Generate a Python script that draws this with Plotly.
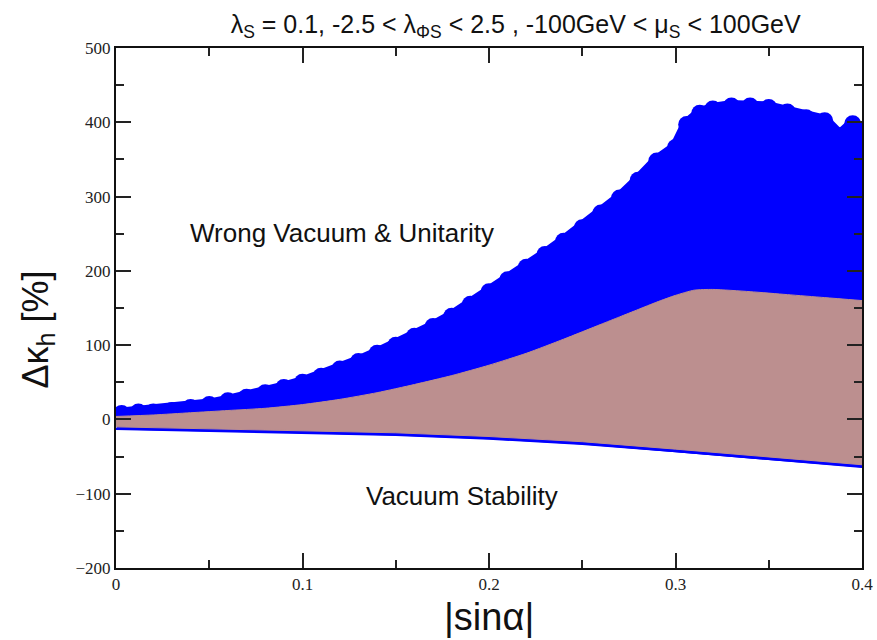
import plotly.graph_objects as go

# Outermost scan points of the full parameter scan (blue): upper edge
scan_edge_x = [0.003, 0.012, 0.02, 0.03, 0.04, 0.05, 0.06, 0.07, 0.08, 0.09,
               0.10, 0.11, 0.12, 0.13, 0.14, 0.15, 0.16, 0.17, 0.18, 0.19,
               0.20, 0.21, 0.22, 0.23, 0.24, 0.25, 0.26, 0.27, 0.28, 0.29,
               0.30, 0.306, 0.313, 0.32, 0.33, 0.34, 0.35, 0.36, 0.37, 0.38,
               0.388, 0.395, 0.40]
scan_edge_y = [8, 10, 10, 12, 16, 20, 25, 30, 36, 43,
               50, 58, 68, 78, 89, 100, 112, 125, 139, 155,
               172, 188, 205, 222, 240, 258, 278, 298, 322, 348,
               366, 397, 412, 418, 422, 422, 420, 414, 406, 402,
               382, 398, 388]

# Lower edge of the full scan
scan_low_x = [0.0, 0.05, 0.10, 0.15, 0.20, 0.25, 0.30, 0.35, 0.40]
scan_low_y = [-13, -16, -18, -21, -26, -33, -43, -54, -64]

# Region allowed by vacuum stability (brown)
stable_x = [0.0, 0.02, 0.04, 0.06, 0.08, 0.10, 0.12, 0.14, 0.16, 0.18, 0.20,
            0.22, 0.24, 0.26, 0.27, 0.28, 0.29, 0.30, 0.31, 0.32, 0.34,
            0.36, 0.38, 0.40]
stable_top = [4, 6, 9, 12, 15, 20, 27, 36, 47, 59, 73,
              89, 108, 128, 138, 148, 158, 167, 174, 175, 172,
              168, 164, 160]
stable_low_x = [0.0, 0.05, 0.10, 0.15, 0.20, 0.25, 0.30, 0.35, 0.40]
stable_low_y = [-10, -13, -15, -18, -23, -30, -40, -51, -61]

x_ticks = [0, 0.1, 0.2, 0.3, 0.4]
x_tick_text = ["0", "0.1", "0.2", "0.3", "0.4"]
y_ticks = [-200, -100, 0, 100, 200, 300, 400, 500]

BLUE = "#0000ff"
BROWN = "#bc8f8f"

fig = go.Figure()

# Full scan: filled body between lower and upper edges
fig.add_trace(go.Scatter(
    x=scan_edge_x + scan_low_x[::-1],
    y=scan_edge_y + scan_low_y[::-1],
    fill="toself", fillcolor=BLUE, mode="lines",
    line=dict(color=BLUE, width=1), hoverinfo="skip", showlegend=False))

# Full scan: outer points drawn as the large plotting symbols
fig.add_trace(go.Scatter(
    x=scan_edge_x, y=scan_edge_y, mode="lines+markers",
    line=dict(color=BLUE, width=12),
    marker=dict(color=BLUE, size=17, symbol="circle"),
    hoverinfo="skip", showlegend=False))

# Lower edge drawn as a thin band
fig.add_trace(go.Scatter(
    x=scan_low_x, y=scan_low_y, mode="lines",
    line=dict(color=BLUE, width=2), hoverinfo="skip", showlegend=False))

# Vacuum-stable region: lower edge, then smoothed upper edge filled down to it
fig.add_trace(go.Scatter(
    x=stable_low_x, y=stable_low_y, mode="lines",
    line=dict(color=BROWN, width=1), hoverinfo="skip", showlegend=False))
fig.add_trace(go.Scatter(
    x=stable_x, y=stable_top, mode="lines", fill="tonexty", fillcolor=BROWN,
    line=dict(color=BROWN, width=1, shape="spline", smoothing=0.6),
    hoverinfo="skip", showlegend=False))

tick_font = dict(family="Liberation Serif, Times New Roman, serif", size=17, color="#222")
sans = "Liberation Sans, Arial, sans-serif"

fig.update_layout(
    width=877, height=640,
    margin=dict(l=116, r=15, t=48, b=72, autoexpand=False),
    paper_bgcolor="white", plot_bgcolor="white",
    title=dict(
        text="λ<sub>S</sub> = 0.1, -2.5 < λ<sub>ΦS</sub> < 2.5 , -100GeV < μ<sub>S</sub> < 100GeV",
        x=0.588, xanchor="center", y=0.962, yanchor="middle",
        font=dict(family=sans, size=25, color="#111")),
    xaxis=dict(
        range=[0, 0.4], tickvals=x_ticks, ticktext=x_tick_text,
        ticks="inside", ticklen=15, tickwidth=1.5, tickcolor="#222",
        minor=dict(dtick=0.05, ticks="inside", ticklen=8, tickwidth=1.5, tickcolor="#222"),
        showline=True, linewidth=2, linecolor="#111", mirror="ticks",
        showgrid=False, zeroline=False, tickfont=tick_font, automargin=False),
    yaxis=dict(
        range=[-200, 500], tickvals=y_ticks,
        ticks="inside", ticklen=15, tickwidth=1.5, tickcolor="#222",
        minor=dict(dtick=50, ticks="inside", ticklen=8, tickwidth=1.5, tickcolor="#222"),
        showline=True, linewidth=2, linecolor="#111", mirror="ticks",
        showgrid=False, zeroline=False, tickfont=tick_font, automargin=False),
    annotations=[
        # axis titles
        dict(text="|sinα|", x=0.5, y=-0.094, xref="paper", yref="paper",
             xanchor="center", yanchor="middle", showarrow=False,
             font=dict(family=sans, size=38, color="#111")),
        dict(text="Δκ<sub>h</sub> [%]", x=-0.105, y=0.458, xref="paper", yref="paper",
             xanchor="center", yanchor="middle", showarrow=False, textangle=-90,
             font=dict(family=sans, size=36, color="#111")),
        # region labels
        dict(text="Wrong Vacuum &amp; Unitarity", x=0.121, y=251, xref="x", yref="y",
             xanchor="center", yanchor="middle", showarrow=False,
             font=dict(family=sans, size=26, color="#111")),
        dict(text="Vacuum Stability", x=0.1855, y=-103, xref="x", yref="y",
             xanchor="center", yanchor="middle", showarrow=False,
             font=dict(family=sans, size=26, color="#111")),
    ],
)

fig.write_html("out.html")
